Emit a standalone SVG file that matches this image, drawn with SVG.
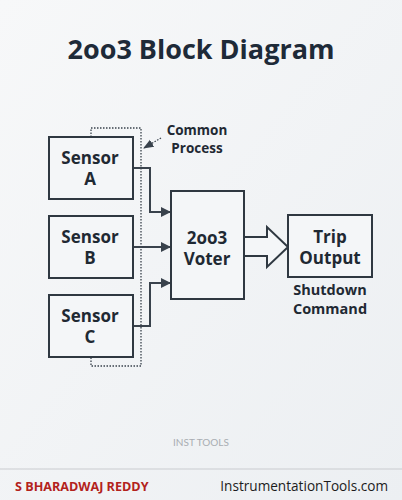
<svg xmlns="http://www.w3.org/2000/svg" width="402" height="500" viewBox="0 0 402 500">
<defs>
<linearGradient id="bg" x1="0" y1="0" x2="1" y2="1">
<stop offset="0" stop-color="#f7f8f9"/>
<stop offset="1" stop-color="#eceff2"/>
</linearGradient>
<marker id="ah" viewBox="0 0 10 10" refX="9" refY="5" markerWidth="5" markerHeight="5" orient="auto" markerUnits="strokeWidth">
<path d="M0,0 L10,5 L0,10 Z" fill="#39424c"/>
</marker>
<marker id="ahs" viewBox="0 0 10 10" refX="9" refY="5" markerWidth="8" markerHeight="8" orient="auto" markerUnits="strokeWidth">
<path d="M0,1 L10,5 L0,9 Z" fill="#39424c"/>
</marker>
<style>
.box{fill:#f4f6f8;stroke:#2f3841;stroke-width:2}
.lbl{font-family:"Open Sans","DejaVu Sans",sans-serif;font-weight:700;font-size:17px;fill:#1f2933;text-anchor:middle}
.sm{font-size:13.5px}
.md{font-size:14.5px}
.wire{fill:none;stroke:#39424c;stroke-width:2}
.dot{fill:none;stroke:#39424c;stroke-width:1.3;stroke-dasharray:1.5 1.5}
</style>
</defs>
<rect width="402" height="500" fill="url(#bg)"/>
<text x="201" y="59" font-family="'Open Sans','DejaVu Sans',sans-serif" font-weight="700" font-size="27" fill="#1e2a38" text-anchor="middle">2oo3 Block Diagram</text>

<g id="connectors">
<path class="dot" d="M91,137 V128 H141 V366 H91 V357"/>
<path class="dot" d="M161,138 L144,148" marker-end="url(#ahs)"/>
<path class="wire" d="M133,168 H150 V212 H170" marker-end="url(#ah)"/>
<path class="wire" d="M133,247 H170" marker-end="url(#ah)"/>
<path class="wire" d="M133,326 H150 V283 H170" marker-end="url(#ah)"/>
<path d="M243,237 H267 V227 L288,247 L267,267 V256 H243" fill="#f4f6f8" stroke="#2f3841" stroke-width="2" stroke-linejoin="miter"/>
</g>

<g id="sensorA">
<rect class="box" x="49" y="137" width="84" height="62"/>
<text class="lbl" x="90" y="164">Sensor</text>
<text class="lbl" x="90" y="185">A</text>
</g>
<g id="sensorB">
<rect class="box" x="49" y="216" width="84" height="62"/>
<text class="lbl" x="90" y="243">Sensor</text>
<text class="lbl" x="90" y="264">B</text>
</g>
<g id="sensorC">
<rect class="box" x="49" y="295" width="84" height="62"/>
<text class="lbl" x="90" y="322">Sensor</text>
<text class="lbl" x="90" y="343">C</text>
</g>
<g id="voter">
<rect class="box" x="171" y="191" width="73" height="108"/>
<text class="lbl" x="207" y="244">2oo3</text>
<text class="lbl" x="207" y="265">Voter</text>
</g>
<g id="trip">
<rect class="box" x="288" y="215" width="84" height="62"/>
<text class="lbl" x="330" y="243">Trip</text>
<text class="lbl" x="330" y="264">Output</text>
</g>
<g id="common">
<text class="lbl sm" x="197" y="135">Common</text>
<text class="lbl sm" x="197" y="153">Process</text>
</g>
<g id="shutdown">
<text class="lbl md" x="330" y="295">Shutdown</text>
<text class="lbl md" x="330" y="314">Command</text>
</g>

<text x="201" y="446" font-family="Lato,'Open Sans',sans-serif" font-size="10" fill="#a9adb2" text-anchor="middle">INST TOOLS</text>
<line x1="0" y1="469" x2="402" y2="469" stroke="#c9ccd0" stroke-width="1.2"/>
<text x="15" y="491" font-family="'Open Sans','DejaVu Sans',sans-serif" font-weight="700" font-size="12.6" fill="#b3221c">S BHARADWAJ REDDY</text>
<text x="388" y="491" font-family="'Open Sans','DejaVu Sans',sans-serif" font-size="13.6" fill="#1c1c1c" text-anchor="end">InstrumentationTools.com</text>
</svg>
